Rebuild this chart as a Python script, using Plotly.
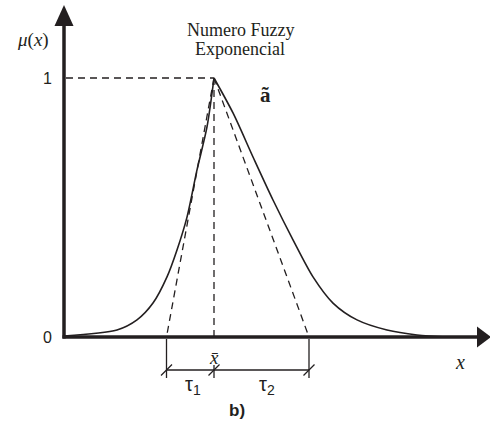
import plotly.graph_objects as go

# Exponential fuzzy number: membership read along each branch
left_x = [0.0, 2.12, 2.92, 3.56, 4.12, 4.52, 4.92, 5.32, 5.72, 6.0]
left_mu = [0.004, 0.027, 0.066, 0.131, 0.232, 0.336, 0.463, 0.645, 0.811, 1.0]
right_x = [6.0, 6.76, 7.56, 8.36, 9.16, 9.96, 10.76, 11.72, 12.92, 14.12, 15.36]
right_mu = [1.0, 0.865, 0.695, 0.529, 0.375, 0.232, 0.131, 0.066, 0.027, 0.008, 0.0]

x_bar = 6.0
tau1 = 1.9
tau2 = 3.8

title_lines = ["Numero Fuzzy", "Exponencial"]
y_ticks = [0, 1]
y_tick_text = ["0", "1"]

INK = "#231f20"
SERIF = "Liberation Serif"
SANS = "Liberation Sans"

W, H = 490, 426
# pixel scale of the data axes
PX = 25.0     # px per x unit
PY = 259.0    # px per mu unit
X0_PX, Y0_PX = 64.0, 337.0
x_range = [-X0_PX / PX, (W - X0_PX) / PX]
y_range = [-(H - Y0_PX) / PY, Y0_PX / PY]


def dx(p):
    return p / PX


def dy(p):
    return p / PY


fig = go.Figure()

# membership curve, one smooth branch per side so the peak stays sharp
for xs, ys in ((left_x, left_mu), (right_x, right_mu)):
    fig.add_trace(go.Scatter(x=xs, y=ys, mode="lines",
                             line=dict(color=INK, width=1.6, shape="spline", smoothing=0.8),
                             hoverinfo="skip", showlegend=False))

dash = dict(color=INK, width=1.3, dash="7px,5px")
x_left = x_bar - tau1
x_right = x_bar + tau2
# dashed guides: level 1, the centre and the triangular approximation
fig.add_shape(type="line", x0=dx(2), y0=1, x1=x_bar, y1=1, line=dash)
fig.add_shape(type="line", x0=x_bar, y0=1, x1=x_bar, y1=0, line=dash)
fig.add_shape(type="line", x0=x_bar, y0=1, x1=x_left, y1=0, line=dash)
fig.add_shape(type="line", x0=x_bar, y0=1, x1=x_right, y1=0, line=dash)

# axes with filled arrowheads
axis_line = dict(color=INK, width=3.5)
y_tip, y_base = dy(Y0_PX - 5), dy(Y0_PX - 26)
x_tip, x_base = dx(W + 1 - X0_PX), dx(477 - X0_PX)
fig.add_shape(type="line", x0=0, y0=-dy(1.5), x1=0, y1=y_base, line=axis_line)
fig.add_shape(type="line", x0=-dx(1.5), y0=0, x1=x_base, y1=0, line=axis_line)
fig.add_shape(type="path",
              path=f"M {-dx(9.5)},{y_base} L {dx(9.5)},{y_base} L 0,{y_tip} Z",
              fillcolor=INK, line=dict(color=INK, width=0))
fig.add_shape(type="path",
              path=f"M {x_base},{-dy(10.5)} L {x_base},{dy(10.5)} L {x_tip},0 Z",
              fillcolor=INK, line=dict(color=INK, width=0))

# dimension line for tau1 and tau2
thin = dict(color=INK, width=1.3)
dim_y = -dy(33)
fig.add_shape(type="line", x0=x_left, y0=-dy(2), x1=x_left, y1=-dy(41), line=thin)
fig.add_shape(type="line", x0=x_right, y0=-dy(2), x1=x_right, y1=-dy(41), line=thin)
fig.add_shape(type="line", x0=x_bar, y0=-dy(28), x1=x_bar, y1=-dy(41), line=thin)
fig.add_shape(type="line", x0=x_left, y0=dim_y, x1=x_right, y1=dim_y, line=thin)
for xv in (x_left, x_bar, x_right):
    fig.add_shape(type="line", x0=xv - dx(5.5), y0=dim_y - dy(5.5),
                  x1=xv + dx(5.5), y1=dim_y + dy(5.5), line=thin)


def label(x, y, text, size, family, **kw):
    fig.add_annotation(x=x, y=y, text=text, showarrow=False,
                       font=dict(family=family, size=size, color=INK),
                       xanchor=kw.pop("xanchor", "center"),
                       yanchor=kw.pop("yanchor", "middle"), **kw)


# tick labels on the mu axis
for v, t in zip(y_ticks, y_tick_text):
    label(-dx(10), v, t, 16, SANS, xanchor="right")

label(-dx(31), dy(Y0_PX - 40), "<i>μ</i>(<i>x</i>)", 19, SERIF)
label(dx(240 - X0_PX), dy(Y0_PX - 30), title_lines[0], 18, SERIF)
label(dx(240 - X0_PX), dy(Y0_PX - 49), title_lines[1], 18, SERIF)
label(dx(265 - X0_PX), dy(Y0_PX - 95), "<b>ã</b>", 21, SERIF)
label(x_bar, -dy(20), "<i>x\u0304</i>", 19, SERIF)
label(dx(460 - X0_PX), -dy(25), "<i>x</i>", 20, SERIF)
label((x_left + x_bar) / 2 + dx(3), -dy(48), "τ<sub>1</sub>", 20, SANS)
label((x_bar + x_right) / 2 + dx(5), -dy(48), "τ<sub>2</sub>", 20, SANS)
label(dx(237 - X0_PX), -dy(73), "<b>b)</b>", 17, SANS)

fig.update_xaxes(range=x_range, visible=False, fixedrange=True)
fig.update_yaxes(range=y_range, visible=False, fixedrange=True)
fig.update_layout(width=W, height=H, margin=dict(l=0, r=0, t=0, b=0),
                  plot_bgcolor="white", paper_bgcolor="white", showlegend=False)

fig.write_html("out.html")
